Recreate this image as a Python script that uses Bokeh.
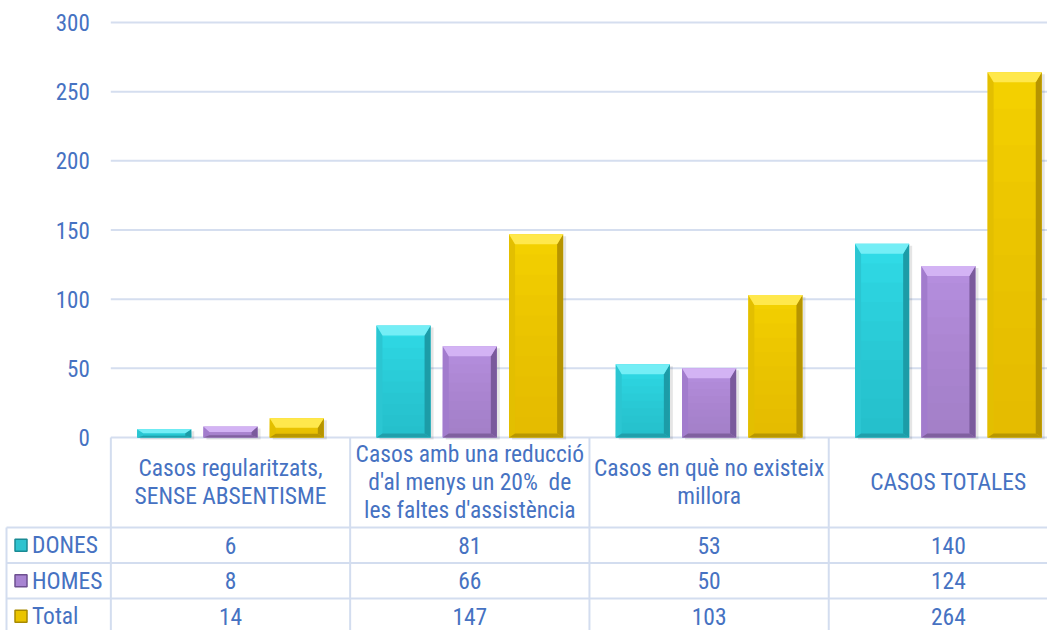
import numpy as np
from bokeh.plotting import figure
from bokeh.models import Range1d, LinearAxis, FixedTicker
from bokeh.core.properties import value
from bokeh.embed import file_html
from bokeh.resources import INLINE

# ---------------- data ----------------
categories = ["Casos regularitzats,\nSENSE ABSENTISME",
              "Casos amb una reducció\nd'al menys un 20%\u00a0 de\nles faltes d'assistència",
              "Casos en què no existeix\nmillora",
              "CASOS TOTALES"]
series_names = ["DONES", "HOMES", "Total"]
dones = [6, 81, 53, 140]
homes = [8, 66, 50, 124]
total = [14, 147, 103, 264]
yticks = [0, 50, 100, 150, 200, 250, 300]

# ---------------- layout / style ----------------
W, H = 1047, 630
COL_W = 239.3         # px per category
CAT0 = 230.0          # px centre of first category
PPU = 1.38333         # px per value unit
ZERO = 437.0          # px of the value 0 line

def xd(px):
    return (px - CAT0) / COL_W

def yd(px):
    return (ZERO - px) / PPU

FONT = "Roboto Condensed, Roboto"
FS = "23.5px"
TEXT = "#4672c2"
GRID = "#d5deef"

p = figure(width=W, height=H, output_backend="svg", toolbar_location=None,
           x_range=Range1d(xd(0), xd(W)),
           y_range=Range1d(yd(H), yd(0)),
           min_border=0, x_axis_location=None, y_axis_location=None)
p.outline_line_color = None
p.grid.visible = False
p.background_fill_color = "white"
p.border_fill_color = "white"

# gridlines (value axis)
x_right = xd(1060)
p.segment(x0=[xd(110.3)] * len(yticks), x1=[x_right] * len(yticks),
          y0=yticks, y1=yticks, line_color=GRID, line_width=2)

ax = LinearAxis(fixed_location=xd(110.3), ticker=FixedTicker(ticks=yticks))
ax.axis_line_color = None
ax.major_tick_line_color = None
ax.minor_tick_line_color = None
ax.major_tick_out = 0
ax.major_label_standoff = 21
ax.major_label_text_font = FONT
ax.major_label_text_font_size = "23px"
ax.major_label_text_color = TEXT
p.add_layout(ax, "left")

# ---------------- bars with bevel ----------------
series = [dones, homes, total]
offsets = [-0.277, 0.0, 0.277]
bar_w = 0.226
colors = [
    # body, top, left, right, bottom, lower body
    ("#32dfeb", "#74eef6", "#2bc6d2", "#1c9ca7", "#209fab", "#25b5c1"),
    ("#b890e2", "#d3b3f4", "#a27ccd", "#7a5a9c", "#80609f", "#9775bd"),
    ("#f6d300", "#ffe84c", "#e3bf00", "#b69400", "#b89700", "#d9b400"),
]
sx = 6.0 / COL_W
N_GRAD = 10
for vals, off, (c_body, c_top, c_left, c_right, c_bot, c_low) in zip(series, offsets, colors):
    v = np.array(vals, dtype=float)
    xc = np.arange(len(v)) + off
    x0 = xc - bar_w / 2
    x1 = xc + bar_w / 2
    hpx = v * PPU
    t = np.minimum(10.0, hpx * 0.5) / PPU
    b = np.minimum(4.0, hpx * 0.2) / PPU
    # shadow
    p.quad(left=x0 + 3 / COL_W, right=x1 + 3 / COL_W, bottom=-2 / PPU, top=v - 2 / PPU,
           fill_color="#000000", fill_alpha=0.10, line_color=None)
    p.quad(left=x0, right=x1, bottom=0, top=v, fill_color=c_body, line_color=None)
    # soft vertical gradient: darker towards the bottom
    for k in range(1, N_GRAD + 1):
        p.quad(left=x0, right=x1, bottom=0, top=v * k / N_GRAD, fill_color=c_low,
               fill_alpha=0.09, line_color=None)
    top_xs = [[a, c, c - sx, a + sx] for a, c in zip(x0, x1)]
    top_ys = [[h, h, h - tt, h - tt] for h, tt in zip(v, t)]
    left_xs = [[a, a, a + sx, a + sx] for a in x0]
    left_ys = [[h, 0, bb, h - tt] for h, tt, bb in zip(v, t, b)]
    right_xs = [[c, c, c - sx, c - sx] for c in x1]
    right_ys = [[h, 0, bb, h - tt] for h, tt, bb in zip(v, t, b)]
    bot_xs = [[a, c, c - sx, a + sx] for a, c in zip(x0, x1)]
    bot_ys = [[0, 0, bb, bb] for bb in b]
    p.patches(xs=left_xs, ys=left_ys, fill_color=c_left, line_color=None)
    p.patches(xs=right_xs, ys=right_ys, fill_color=c_right, line_color=None)
    p.patches(xs=bot_xs, ys=bot_ys, fill_color=c_bot, line_color=None)
    p.patches(xs=top_xs, ys=top_ys, fill_color=c_top, line_color=None)

# ---------------- data table ----------------
LINE = "#d3ddef"
n = len(categories)
label_row_bottom = 527.0
row_h = 35.5
row_centers = [label_row_bottom + row_h * (i + 0.5) for i in range(len(series_names))]
row_lines = [label_row_bottom + row_h * i for i in range(len(series_names))]

# verticals
col_bounds = [i - 0.5 for i in range(n)]
p.segment(x0=col_bounds, x1=col_bounds, y0=[0] * n, y1=[yd(650)] * n,
          line_color=LINE, line_width=2)
p.segment(x0=[xd(6)], x1=[xd(6)], y0=[yd(label_row_bottom)], y1=[yd(650)],
          line_color=LINE, line_width=2)
# horizontals
p.segment(x0=[xd(6)] * len(row_lines), x1=[x_right] * len(row_lines),
          y0=[yd(r) for r in row_lines], y1=[yd(r) for r in row_lines],
          line_color=LINE, line_width=2)

# category labels
p.text(x=list(range(n)), y=[yd(481.5)] * n, text=categories,
       text_align="center", text_baseline="middle", text_line_height=1.0,
       text_font=value(FONT), text_font_size=FS, text_color=TEXT)

# legend column
icon_fill = ["#2ec3cf", "#a884d2", "#eac400"]
icon_line = ["#1a8a94", "#6e5090", "#a88a00"]
p.scatter(x=[xd(20.5)] * 3, y=[yd(r) for r in row_centers], marker="square",
          size=12, fill_color=icon_fill, line_color=icon_line, line_width=1.5)
p.text(x=[xd(31.5)] * 3, y=[yd(r) for r in row_centers], text=series_names,
       text_align="left", text_baseline="middle",
       text_font=value(FONT), text_font_size=FS, text_color=TEXT)

for vals, rc in zip(series, row_centers):
    p.text(x=list(range(n)), y=[yd(rc)] * n, text=[str(v) for v in vals],
           text_align="center", text_baseline="middle",
           text_font=value(FONT), text_font_size=FS, text_color=TEXT)

open("out.html", "w").write(file_html(p, INLINE))
